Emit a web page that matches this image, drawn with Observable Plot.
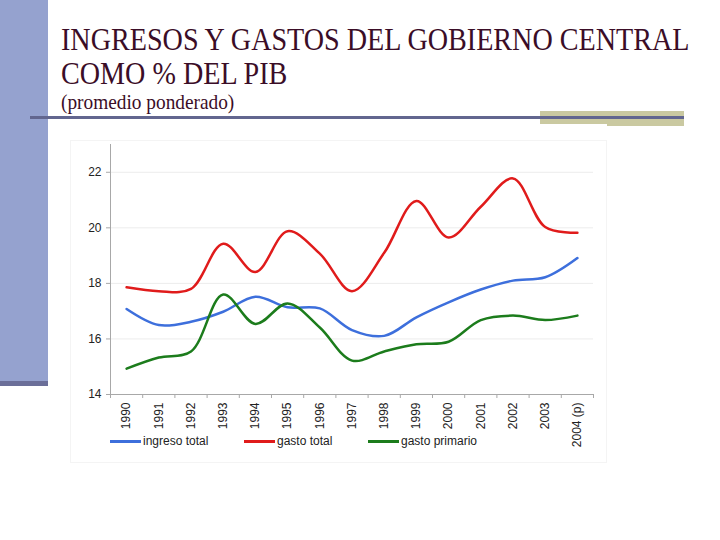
<!DOCTYPE html>
<html><head><meta charset="utf-8">
<script src="https://cdn.jsdelivr.net/npm/d3@7"></script>
<script src="https://cdn.jsdelivr.net/npm/@observablehq/plot@0.6"></script>
<style>
body{margin:0;background:#fff;}
#slide{position:relative;width:720px;height:540px;overflow:hidden;background:#fff;}
.abs{position:absolute;}
.ttl{position:absolute;left:61px;font-family:"Liberation Serif","Times New Roman",serif;color:#3b0d27;white-space:nowrap;transform-origin:0 0;line-height:1;}
.leg{position:absolute;font-family:"Liberation Sans",Arial,sans-serif;font-size:12px;color:#222;line-height:14px;white-space:nowrap;}
#chart{position:absolute;left:0;top:0;}
</style></head><body>
<div id="slide">
  <div class="abs" style="left:0;top:0;width:48px;height:382px;background:#95a2cf;"></div>
  <div class="abs" style="left:0;top:381px;width:48px;height:5px;background:#6b6f99;"></div>
  <div class="abs" style="left:70px;top:140px;width:537px;height:323px;border:1px solid #f4f4f4;box-sizing:border-box;"></div>
  <div class="abs" style="left:540px;top:111px;width:144px;height:13px;background:#cac9a1;"></div>
  <div class="abs" style="left:607px;top:111px;width:77px;height:15px;background:#cac9a1;"></div>
  <div class="abs" style="left:30px;top:116px;width:654px;height:3px;background:#62668f;"></div>
  <div class="ttl" id="t1" style="top:23px;font-size:32px;transform:scaleX(0.879);"></div>
  <div class="ttl" id="t2" style="top:57px;font-size:32px;transform:scaleX(0.879);"></div>
  <div class="ttl" id="t3" style="top:92px;font-size:21px;transform:scaleX(0.92);"></div>
  <div id="chart"></div>
  <div id="legend"></div>
</div>
<script>
const titleLines = ["INGRESOS Y GASTOS DEL GOBIERNO CENTRAL", "COMO % DEL PIB", "(promedio ponderado)"];
const years = ["1990","1991","1992","1993","1994","1995","1996","1997","1998","1999","2000","2001","2002","2003","2004 (p)"];
const ingresoTotal  = [17.08, 16.50, 16.62, 16.98, 17.52, 17.14, 17.10, 16.32, 16.11, 16.78, 17.32, 17.78, 18.10, 18.22, 18.91];
const gastoTotal    = [17.86, 17.72, 17.80, 19.43, 18.41, 19.88, 19.07, 17.72, 19.10, 20.97, 19.65, 20.76, 21.78, 20.03, 19.82];
const gastoPrimario = [14.93, 15.33, 15.55, 17.60, 16.54, 17.28, 16.41, 15.22, 15.55, 15.81, 15.90, 16.68, 16.84, 16.68, 16.84];
const seriesNames  = ["ingreso total", "gasto total", "gasto primario"];
const seriesColors = ["#3d6fdc", "#e01b1b", "#1c7c1c"];
const yTicks = [14, 16, 18, 20, 22];

document.getElementById("t1").textContent = titleLines[0];
document.getElementById("t2").textContent = titleLines[1];
document.getElementById("t3").textContent = titleLines[2];

const seriesArrays = [ingresoTotal, gastoTotal, gastoPrimario];
const rows = [];
seriesArrays.forEach((arr, s) => arr.forEach((v, i) => rows.push({i, value: v, serie: seriesNames[s]})));

const idx = years.map((_, i) => i);
const bounds = d3.range(-0.5, years.length, 1);

const chart = Plot.plot({
  width: 720, height: 540,
  marginLeft: 110, marginRight: 127, marginTop: 144, marginBottom: 146,
  style: {fontFamily: "'Liberation Sans', Arial, sans-serif", fontSize: "12px", color: "#222", background: "transparent", overflow: "visible"},
  x: {domain: [-0.5, years.length - 0.5]},
  y: {domain: [14, 23]},
  color: {domain: seriesNames, range: seriesColors},
  marks: [
    Plot.gridY(yTicks.slice(1), {stroke: "#ececec", strokeOpacity: 1}),
    Plot.ruleX([-0.5], {stroke: "#a8a8a8"}),
    Plot.ruleY([14], {stroke: "#a8a8a8"}),
    Plot.axisY({ticks: yTicks, tickSize: 4, tickPadding: 5, stroke: "#a8a8a8", fill: "#222", label: null}),
    Plot.axisX({ticks: bounds, tickSize: 4, stroke: "#a8a8a8", tickFormat: () => "", label: null}),
    Plot.axisX({ticks: idx, tickSize: 0, tickPadding: 8, tickRotate: -90, tickFormat: i => years[i], fill: "#222", label: null}),
    Plot.lineY(rows, {x: "i", y: "value", stroke: "serie", z: "serie", curve: "catmull-rom", strokeWidth: 2.5})
  ]
});
document.getElementById("chart").appendChild(chart);

// legend
const legend = document.getElementById("legend");
const legendPos = [110, 244, 368];
seriesNames.forEach((name, k) => {
  const sw = document.createElement("div");
  sw.className = "abs";
  sw.style.cssText = `left:${legendPos[k]}px;top:440px;width:31px;height:2.6px;background:${seriesColors[k]};`;
  legend.appendChild(sw);
  const tx = document.createElement("div");
  tx.className = "leg";
  tx.style.left = (legendPos[k] + 33) + "px";
  tx.style.top = "434px";
  tx.textContent = name;
  legend.appendChild(tx);
});
</script>
</body></html>
